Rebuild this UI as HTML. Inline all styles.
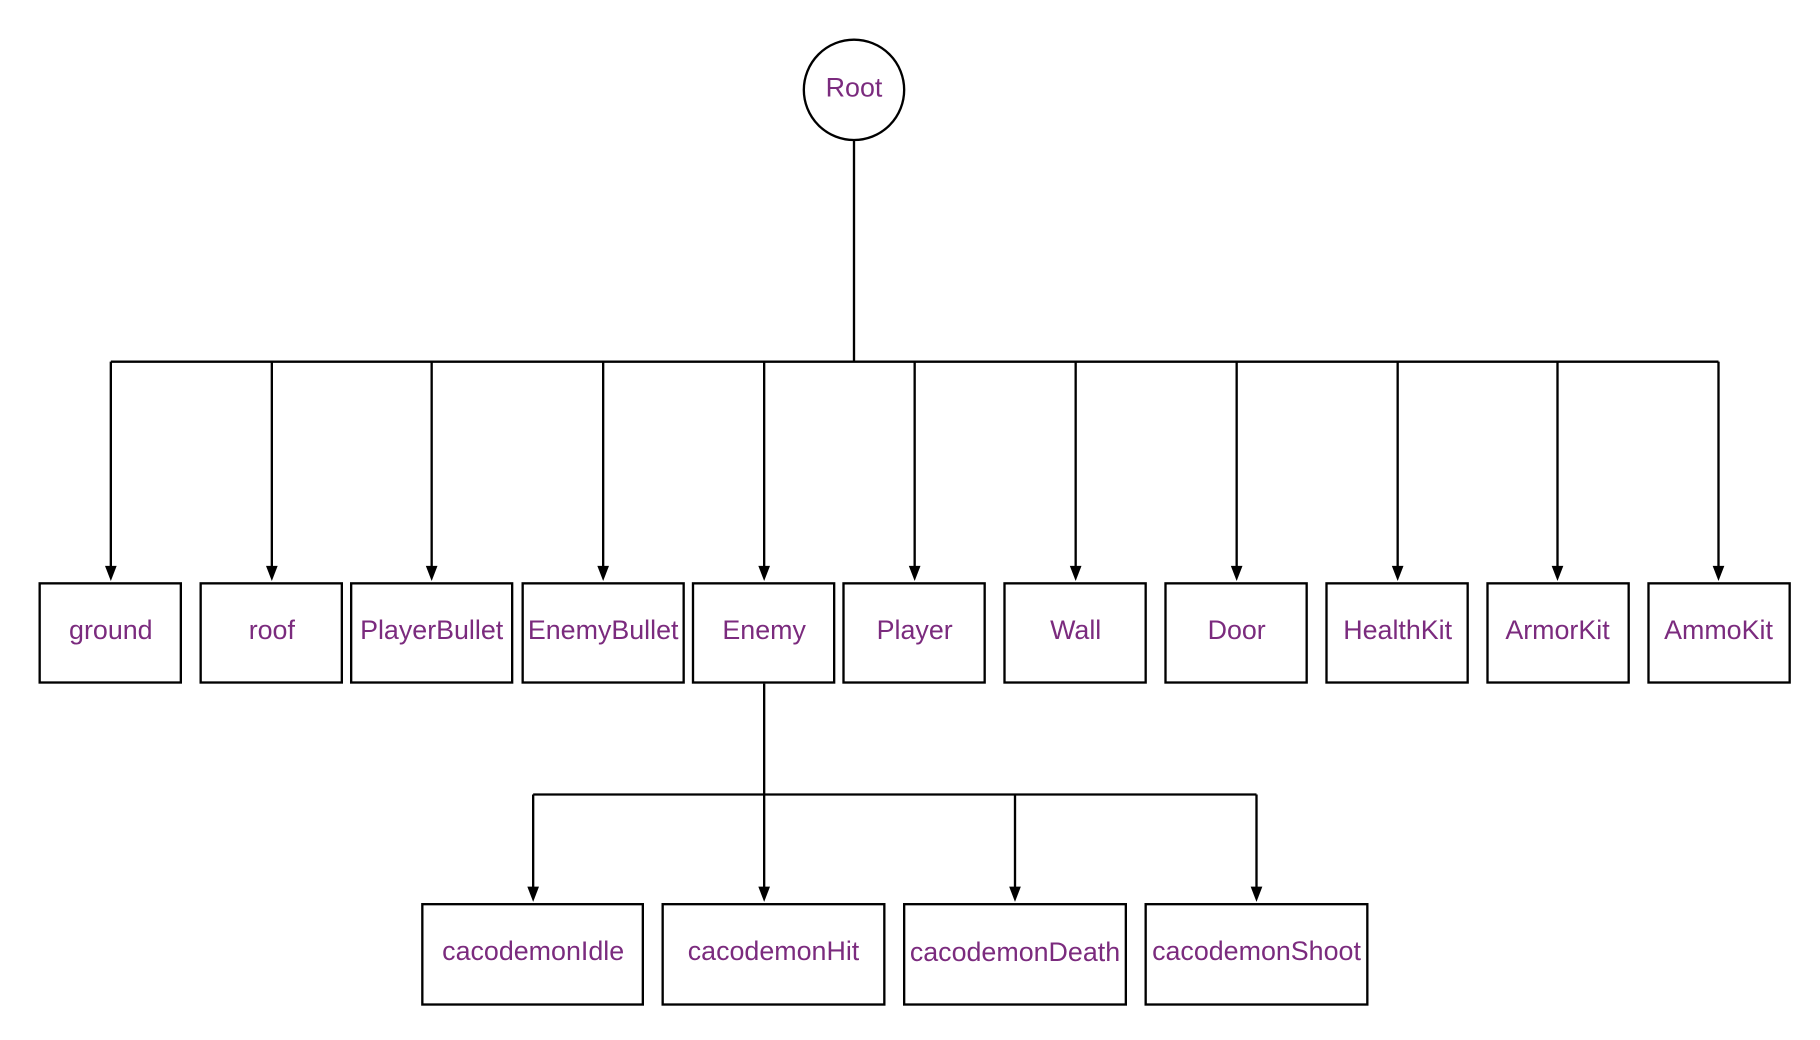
<!DOCTYPE html>
<html><head><meta charset="utf-8"><style>
html,body{margin:0;padding:0;background:#fff;}
svg{display:block;}
text{font-family:"Liberation Sans",sans-serif;font-size:23px;fill:#7b2b7e;text-anchor:middle;dominant-baseline:central;}
</style></head><body>
<svg width="1820" height="1040" viewBox="0 0 1560 891.4" xmlns="http://www.w3.org/2000/svg">
<g stroke="#000" stroke-width="2" fill="none">
<circle cx="732" cy="77" r="43" fill="#fff"/>
<line x1="732" y1="120" x2="732" y2="310"/>
<line x1="95" y1="310" x2="1473" y2="310"/>
<line x1="655" y1="586" x2="655" y2="681"/>
<line x1="457" y1="681" x2="1077" y2="681"/>
</g>
<g stroke="#000" stroke-width="2">
<line x1="95" y1="310" x2="95" y2="488"/><line x1="233" y1="310" x2="233" y2="488"/><line x1="370" y1="310" x2="370" y2="488"/><line x1="517" y1="310" x2="517" y2="488"/><line x1="655" y1="310" x2="655" y2="488"/><line x1="784" y1="310" x2="784" y2="488"/><line x1="922" y1="310" x2="922" y2="488"/><line x1="1060" y1="310" x2="1060" y2="488"/><line x1="1198" y1="310" x2="1198" y2="488"/><line x1="1335" y1="310" x2="1335" y2="488"/><line x1="1473" y1="310" x2="1473" y2="488"/>
<line x1="457" y1="681" x2="457" y2="763"/><line x1="655" y1="681" x2="655" y2="763"/><line x1="870" y1="681" x2="870" y2="763"/><line x1="1077" y1="681" x2="1077" y2="763"/>
</g>
<g fill="#000">
<path d="M90,485 L100,485 L95,498 z"/><path d="M228,485 L238,485 L233,498 z"/><path d="M365,485 L375,485 L370,498 z"/><path d="M512,485 L522,485 L517,498 z"/><path d="M650,485 L660,485 L655,498 z"/><path d="M779,485 L789,485 L784,498 z"/><path d="M917,485 L927,485 L922,498 z"/><path d="M1055,485 L1065,485 L1060,498 z"/><path d="M1193,485 L1203,485 L1198,498 z"/><path d="M1330,485 L1340,485 L1335,498 z"/><path d="M1468,485 L1478,485 L1473,498 z"/>
<path d="M452,760 L462,760 L457,773 z"/><path d="M650,760 L660,760 L655,773 z"/><path d="M865,760 L875,760 L870,773 z"/><path d="M1072,760 L1082,760 L1077,773 z"/>
</g>
<g stroke="#000" stroke-width="2" fill="#fff">
<rect x="34" y="500" width="121" height="85"/><rect x="172" y="500" width="121" height="85"/><rect x="301" y="500" width="138" height="85"/><rect x="448" y="500" width="138" height="85"/><rect x="594" y="500" width="121" height="85"/><rect x="723" y="500" width="121" height="85"/><rect x="861" y="500" width="121" height="85"/><rect x="999" y="500" width="121" height="85"/><rect x="1137" y="500" width="121" height="85"/><rect x="1275" y="500" width="121" height="85"/><rect x="1413" y="500" width="121" height="85"/>
<rect x="362" y="775" width="189" height="86"/><rect x="568" y="775" width="190" height="86"/><rect x="775" y="775" width="190" height="86"/><rect x="982" y="775" width="190" height="86"/>
</g>
<text x="732" y="75">Root</text>
<text x="95" y="540">ground</text><text x="233" y="540">roof</text><text x="370" y="540">PlayerBullet</text><text x="517" y="540">EnemyBullet</text><text x="655" y="540">Enemy</text><text x="784" y="540">Player</text><text x="922" y="540">Wall</text><text x="1060" y="540">Door</text><text x="1198" y="540">HealthKit</text><text x="1335" y="540">ArmorKit</text><text x="1473" y="540">AmmoKit</text>
<text x="457" y="815">cacodemonIdle</text><text x="663" y="815">cacodemonHit</text><text x="870" y="816">cacodemonDeath</text><text x="1077" y="815">cacodemonShoot</text>
</svg>
</body></html>
